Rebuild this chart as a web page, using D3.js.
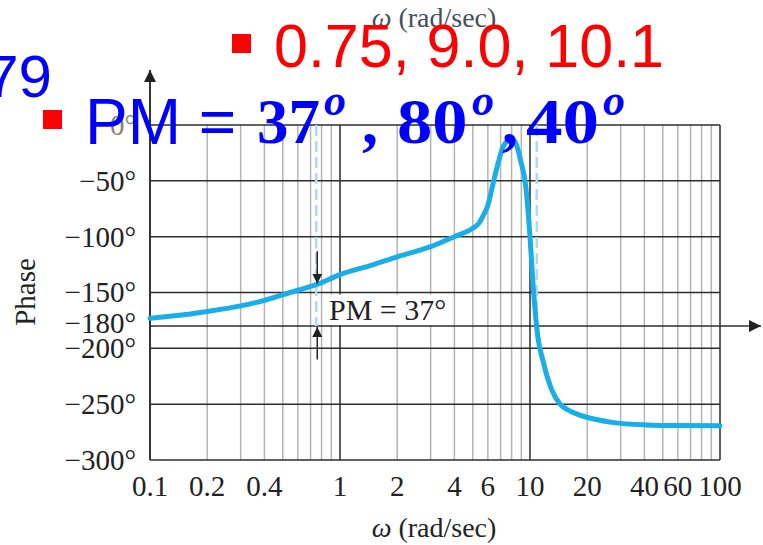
<!DOCTYPE html>
<html>
<head>
<meta charset="utf-8">
<script src="https://cdn.jsdelivr.net/npm/d3@7"></script>
<style>
  body { margin: 0; background: #fff; }
  svg { display: block; }
</style>
</head>
<body>
<div id="chart"></div>
<script>
////////// Donnees
var omega = [0.1, 0.15, 0.2, 0.3, 0.4, 0.5, 0.6, 0.75, 1, 1.5, 2, 3, 4, 5, 5.35, 5.7, 6, 6.4, 6.8, 7.2, 7.7, 8.1, 8.5, 8.9, 9.5, 10, 10.4, 11, 11.7, 12.2, 13, 14.4, 16, 18.3, 22, 27, 41, 60, 100];
var phase = [-173, -170, -167, -162, -157, -152, -148, -143, -134, -125, -118, -109, -100, -92.5, -88.5, -80.5, -72, -52, -34, -20, -14, -13, -18, -31, -55, -100, -145, -190, -211, -223, -237, -250, -255.5, -259.8, -263.5, -266.3, -268.6, -269.2, -269.4];

var xTicks = [0.1, 0.2, 0.4, 1, 2, 4, 6, 10, 20, 40, 60, 100];
var xTickLabels = ["0.1", "0.2", "0.4", "1", "2", "4", "6", "10", "20", "40", "60", "100"];
var yTicks = [0, -50, -100, -150, -180, -200, -250, -300];
var yTickLabels = ["0°", "−50°", "−100°", "−150°", "−180°", "−200°", "−250°", "−300°"];
var decades = [0.1, 1, 10];
var crossFreqs = [0.75, 10.85];
var pmFreq = 0.75;
var pmText = "PM = 37°";
var redLine = "0.75, 9.0, 10.1";
var pmValues = ["37", "80", "40"];
var cutText = "79";

var W = 763, H = 545;
var serif = "'Liberation Serif', 'Times New Roman', serif";
var sans = "'Liberation Sans', Arial, sans-serif";

var svg = d3.select("#chart").append("svg")
  .attr("width", W)
  .attr("height", H);

var defs = svg.append("defs");
defs.append("marker")
  .attr("id", "arr")
  .attr("viewBox", "0 0 10 10")
  .attr("refX", 10).attr("refY", 5)
  .attr("markerWidth", 10).attr("markerHeight", 10)
  .attr("markerUnits", "userSpaceOnUse")
  .attr("orient", "auto")
  .append("path").attr("d", "M0,0 L10,5 L0,10 z").attr("fill", "#222");
defs.append("marker")
  .attr("id", "arrBig")
  .attr("viewBox", "0 0 10 10")
  .attr("refX", 10).attr("refY", 5)
  .attr("markerWidth", 13).attr("markerHeight", 12)
  .attr("markerUnits", "userSpaceOnUse")
  .attr("orient", "auto")
  .append("path").attr("d", "M0,0 L10,5 L0,10 z").attr("fill", "#222");

var x = d3.scaleLog().domain([0.1, 100]).range([150, 720]);
var y = d3.scaleLinear().domain([0, -300]).range([125, 460]);

////////// Grille
var minor = [];
decades.forEach(function(d) {
  for (var k = 2; k <= 9; k++) minor.push(d * k);
});
svg.append("g").selectAll("line").data(minor).enter().append("line")
  .attr("x1", function(d) { return x(d); })
  .attr("x2", function(d) { return x(d); })
  .attr("y1", y(0)).attr("y2", y(-300))
  .attr("stroke", "#b4b4b4").attr("stroke-width", 1.5);

svg.append("g").selectAll("line").data(yTicks).enter().append("line")
  .attr("x1", x(0.1)).attr("x2", x(100))
  .attr("y1", function(d) { return y(d); })
  .attr("y2", function(d) { return y(d); })
  .attr("stroke", "#2e2e2e").attr("stroke-width", 1.5);

svg.append("g").selectAll("line").data([1, 10, 100]).enter().append("line")
  .attr("x1", function(d) { return x(d); })
  .attr("x2", function(d) { return x(d); })
  .attr("y1", y(0)).attr("y2", y(-300))
  .attr("stroke", "#2a2a2a").attr("stroke-width", 1.5);

// axe vertical avec fleche
svg.append("line")
  .attr("x1", x(0.1)).attr("x2", x(0.1))
  .attr("y1", y(-300)).attr("y2", 70)
  .attr("stroke", "#333").attr("stroke-width", 2)
  .attr("marker-end", "url(#arrBig)");

// ligne -180 avec fleche
svg.append("line")
  .attr("x1", x(100)).attr("x2", 761)
  .attr("y1", y(-180)).attr("y2", y(-180))
  .attr("stroke", "#2e2e2e").attr("stroke-width", 1.5)
  .attr("marker-end", "url(#arrBig)");

////////// Graduations
svg.append("g").selectAll("text").data(yTicks).enter().append("text")
  .attr("x", 136)
  .attr("y", function(d) { return y(d) + (d == -180 ? -3 : 0); })
  .attr("dy", "0.34em")
  .attr("text-anchor", "end")
  .attr("font-family", serif).attr("font-size", 29)
  .attr("fill", function(d) { return d == 0 ? "#8a8070" : "#222"; })
  .text(function(d, i) { return yTickLabels[i]; });

svg.append("g").selectAll("text").data(xTicks).enter().append("text")
  .attr("x", function(d) { return x(d); })
  .attr("y", 496)
  .attr("text-anchor", "middle")
  .attr("font-family", serif).attr("font-size", 29)
  .attr("fill", "#222")
  .text(function(d, i) { return xTickLabels[i]; });

svg.append("text")
  .attr("transform", "translate(35," + 292 + ") rotate(-90)")
  .attr("text-anchor", "middle")
  .attr("font-family", serif).attr("font-size", 29)
  .attr("fill", "#222")
  .text("Phase");

function omegaLabel(yy, col) {
  var t = svg.append("text")
    .attr("x", 434).attr("y", yy)
    .attr("text-anchor", "middle")
    .attr("font-family", serif).attr("font-size", 28)
    .attr("fill", col);
  t.append("tspan").attr("font-style", "italic").text("ω");
  t.append("tspan").text(" (rad/sec)");
}
omegaLabel(537, "#222");
omegaLabel(27, "#45505c");

////////// Lignes de coupure (pointilles)
svg.append("g").selectAll("line").data(crossFreqs).enter().append("line")
  .attr("x1", function(d) { return x(d); })
  .attr("x2", function(d) { return x(d); })
  .attr("y1", y(0)).attr("y2", y(-180))
  .attr("stroke", "#a9dcf4").attr("stroke-width", 2.5)
  .attr("stroke-dasharray", "11,5");

////////// Courbe de phase
var pts = omega.map(function(w, i) { return [w, phase[i]]; });
var line = d3.line()
  .x(function(d) { return x(d[0]); })
  .y(function(d) { return y(d[1]); })
  .curve(d3.curveMonotoneX);

svg.append("path")
  .datum(pts)
  .attr("d", line)
  .attr("fill", "none")
  .attr("stroke", "#1aaee8")
  .attr("stroke-width", 5)
  .attr("stroke-linecap", "round")
  .attr("stroke-linejoin", "round");

////////// Marge de phase
var pmPhase = d3.scaleLog().domain(omega).range(phase)(pmFreq);
svg.append("line")
  .attr("x1", x(pmFreq) + 1).attr("x2", x(pmFreq) + 1)
  .attr("y1", y(-113)).attr("y2", y(pmPhase) - 1)
  .attr("stroke", "#222").attr("stroke-width", 1.5)
  .attr("marker-end", "url(#arr)");
svg.append("line")
  .attr("x1", x(pmFreq) + 1).attr("x2", x(pmFreq) + 1)
  .attr("y1", y(-210)).attr("y2", y(-180) + 1)
  .attr("stroke", "#222").attr("stroke-width", 1.5)
  .attr("marker-end", "url(#arr)");

svg.append("rect")
  .attr("x", 326).attr("y", y(-150) + 2)
  .attr("width", 125).attr("height", y(-180) - y(-150) - 3)
  .attr("fill", "#fff");
svg.append("text")
  .attr("x", 329).attr("y", 320)
  .attr("font-family", serif).attr("font-size", 30)
  .attr("fill", "#222")
  .text(pmText);

////////// Textes superposes (diapo)
svg.append("rect").attr("x", 232).attr("y", 34).attr("width", 19).attr("height", 19).attr("fill", "red");
svg.append("text")
  .attr("x", 274).attr("y", 67)
  .attr("font-family", sans).attr("font-size", 61)
  .attr("fill", "red")
  .text(redLine);

svg.append("text")
  .attr("x", 52).attr("y", 97)
  .attr("text-anchor", "end")
  .attr("font-family", sans).attr("font-size", 60)
  .attr("fill", "blue")
  .text(cutText);

svg.append("rect").attr("x", 43).attr("y", 110).attr("width", 19).attr("height", 19).attr("fill", "red");
var pm = svg.append("g").attr("fill", "blue");
pm.append("text")
  .attr("x", 85).attr("y", 144)
  .attr("font-family", sans).attr("font-size", 64)
  .text("PM =");
// positions des morceaux "37", "o", ","
var numX = [257, 397, 526];
var numScale = [1.0, 1.12, 1.16];
var supX = [324, 472, 603];
var commaX = [362, 502];
pmValues.forEach(function(v, i) {
  pm.append("text")
    .attr("transform", "translate(" + numX[i] + ",143) scale(" + numScale[i] + ",1)")
    .attr("font-family", serif).attr("font-size", 63).attr("font-weight", "bold")
    .text(v);
  pm.append("text")
    .attr("transform", "translate(" + supX[i] + ",115)")
    .attr("font-family", serif).attr("font-size", 44).attr("font-weight", "bold")
    .attr("font-style", "italic")
    .text("o");
  if (i < commaX.length) {
    pm.append("text")
      .attr("x", commaX[i]).attr("y", 143)
      .attr("font-family", serif).attr("font-size", 64).attr("font-weight", "bold")
      .text(",");
  }
});
</script>
</body>
</html>
